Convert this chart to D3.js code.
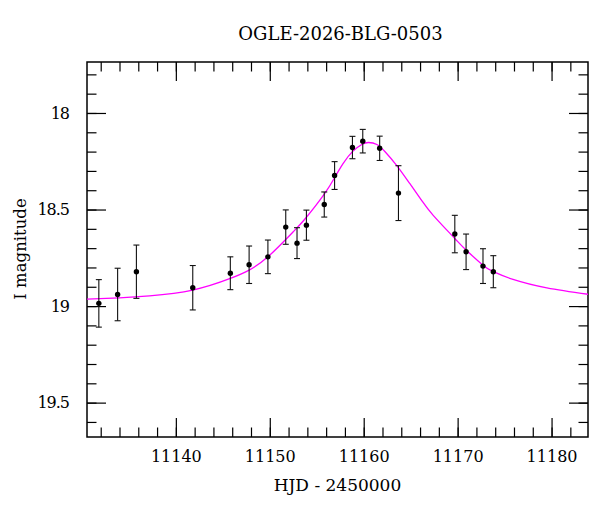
<!DOCTYPE html>
<html>
<head>
<meta charset="utf-8">
<script src="https://cdn.jsdelivr.net/npm/d3@7"></script>
<style>
  body { margin: 0; background: #fff; }
  text { font-family: "DejaVu Serif", serif; fill: #000; }
</style>
</head>
<body>
<svg id="chart" width="600" height="512"></svg>
<script>
// observed points: time (HJD - 2450000), I mag, error
var obsTime = [11131.8, 11133.8, 11135.8, 11141.8, 11145.8, 11147.8, 11149.8, 11151.7, 11152.9, 11153.9,
               11155.8, 11156.9, 11158.8, 11159.9, 11161.7, 11163.7, 11169.7, 11170.9, 11172.7, 11173.8];
var obsMag = [18.986, 18.940, 18.822, 18.905, 18.830, 18.786, 18.745, 18.591, 18.674, 18.581,
              18.474, 18.324, 18.179, 18.146, 18.183, 18.415, 18.627, 18.719, 18.793, 18.822];
var obsErr = [0.123, 0.136, 0.138, 0.115, 0.085, 0.097, 0.087, 0.089, 0.080, 0.078,
              0.065, 0.072, 0.058, 0.061, 0.063, 0.142, 0.097, 0.092, 0.090, 0.083];

// model curve
var modelTime = [11130.5, 11134.0, 11137.2, 11141.8, 11145.8, 11147.8, 11149.8, 11152.5, 11153.9, 11155.8,
                 11156.9, 11157.8, 11158.8, 11159.8, 11160.5, 11161.4, 11162.3, 11163.5, 11164.9, 11166.2,
                 11167.4, 11169.7, 11170.9, 11172.7, 11173.8, 11175.9, 11179.5, 11183.9];
var modelMag = [18.964, 18.957, 18.947, 18.917, 18.857, 18.814, 18.745, 18.615, 18.540, 18.420,
                18.335, 18.262, 18.200, 18.163, 18.153, 18.163, 18.202, 18.271, 18.365, 18.455,
                18.530, 18.650, 18.710, 18.788, 18.822, 18.862, 18.906, 18.939];

var xMajorTicks = [11140, 11150, 11160, 11170, 11180];
var yMajorTicks = [18, 18.5, 19, 19.5];

var svg = d3.select("#chart");
var padding = { t: 62, r: 12, b: 75, l: 87 };
var width = 600 - padding.l - padding.r;
var height = 512 - padding.t - padding.b;

var xScale = d3.scaleLinear().domain([11130.54, 11183.88]).range([0, width]);
var yScale = d3.scaleLinear().domain([17.736, 19.678]).range([0, height]);

var xMinor = d3.range(11132, 11184, 2);
var yMinor = d3.range(17.8, 19.65, 0.1);

var g = svg.append("g").attr("transform", `translate(${padding.l},${padding.t})`);

// axes with inward ticks
function styleAxis(sel) {
    sel.select(".domain").remove();
    sel.selectAll(".tick line").attr("stroke", "#000").attr("stroke-width", 1.2);
    sel.selectAll(".tick text").style("font-size", "16px").style("font-family", "DejaVu Serif, serif");
}

g.append("g").attr("transform", `translate(0,${height})`)
    .call(d3.axisBottom(xScale).tickValues(xMinor).tickSize(-9.5).tickFormat(""))
    .call(styleAxis);
g.append("g").attr("transform", `translate(0,${height})`)
    .call(d3.axisBottom(xScale).tickValues(xMajorTicks).tickSize(-19).tickPadding(14).tickFormat(d => String(d)))
    .call(styleAxis);
g.append("g")
    .call(d3.axisTop(xScale).tickValues(xMinor).tickSize(-9.5).tickFormat(""))
    .call(styleAxis);
g.append("g")
    .call(d3.axisTop(xScale).tickValues(xMajorTicks).tickSize(-19).tickFormat(""))
    .call(styleAxis);

g.append("g")
    .call(d3.axisLeft(yScale).tickValues(yMinor).tickSize(-9.5).tickFormat(""))
    .call(styleAxis);
g.append("g")
    .call(d3.axisLeft(yScale).tickValues(yMajorTicks).tickSize(-19).tickPadding(18).tickFormat(d => String(d)))
    .call(styleAxis)
    .selectAll(".tick text").style("letter-spacing", "-1px");
g.append("g").attr("transform", `translate(${width},0)`)
    .call(d3.axisRight(yScale).tickValues(yMinor).tickSize(-9.5).tickFormat(""))
    .call(styleAxis);
g.append("g").attr("transform", `translate(${width},0)`)
    .call(d3.axisRight(yScale).tickValues(yMajorTicks).tickSize(-19).tickFormat(""))
    .call(styleAxis);

// frame
g.append("rect")
    .attr("width", width)
    .attr("height", height)
    .attr("fill", "none")
    .attr("stroke", "#000")
    .attr("stroke-width", 1.5);

// clip for model
g.append("clipPath").attr("id", "clip")
    .append("rect").attr("width", width).attr("height", height);

var model = modelTime.map((t, i) => ({ t: t, m: modelMag[i] }));
var line = d3.line()
    .x(d => xScale(d.t))
    .y(d => yScale(d.m))
    .curve(d3.curveNatural);

g.append("path")
    .datum(model)
    .attr("clip-path", "url(#clip)")
    .attr("fill", "none")
    .attr("stroke", "#ff00ff")
    .attr("stroke-width", 1.3)
    .attr("d", line);

var obs = obsTime.map((t, i) => ({ t: t, m: obsMag[i], e: obsErr[i] }));

// error bars
var bars = g.selectAll(".err").data(obs).enter().append("g").attr("class", "err")
    .attr("stroke", "#111").attr("stroke-width", 1.1);
bars.append("line")
    .attr("x1", d => xScale(d.t)).attr("x2", d => xScale(d.t))
    .attr("y1", d => yScale(d.m - d.e)).attr("y2", d => yScale(d.m + d.e));
bars.append("line")
    .attr("x1", d => xScale(d.t) - 3).attr("x2", d => xScale(d.t) + 3)
    .attr("y1", d => yScale(d.m - d.e)).attr("y2", d => yScale(d.m - d.e));
bars.append("line")
    .attr("x1", d => xScale(d.t) - 3).attr("x2", d => xScale(d.t) + 3)
    .attr("y1", d => yScale(d.m + d.e)).attr("y2", d => yScale(d.m + d.e));

g.selectAll(".pt").data(obs).enter().append("circle")
    .attr("class", "pt")
    .attr("cx", d => xScale(d.t))
    .attr("cy", d => yScale(d.m))
    .attr("r", 2.7)
    .attr("fill", "#000");

// title and labels
svg.append("text")
    .attr("x", padding.l + width / 2 + 3)
    .attr("y", 39.5)
    .attr("text-anchor", "middle")
    .style("font-size", "18px")
    .text("OGLE-2026-BLG-0503");

svg.append("text")
    .attr("x", padding.l + width / 2)
    .attr("y", 491)
    .attr("text-anchor", "middle")
    .style("font-size", "17px")
    .text("HJD - 2450000");

svg.append("text")
    .attr("transform", "translate(26,249) rotate(-90)")
    .attr("text-anchor", "middle")
    .style("font-size", "16.5px")
    .text("I magnitude");
</script>
</body>
</html>
